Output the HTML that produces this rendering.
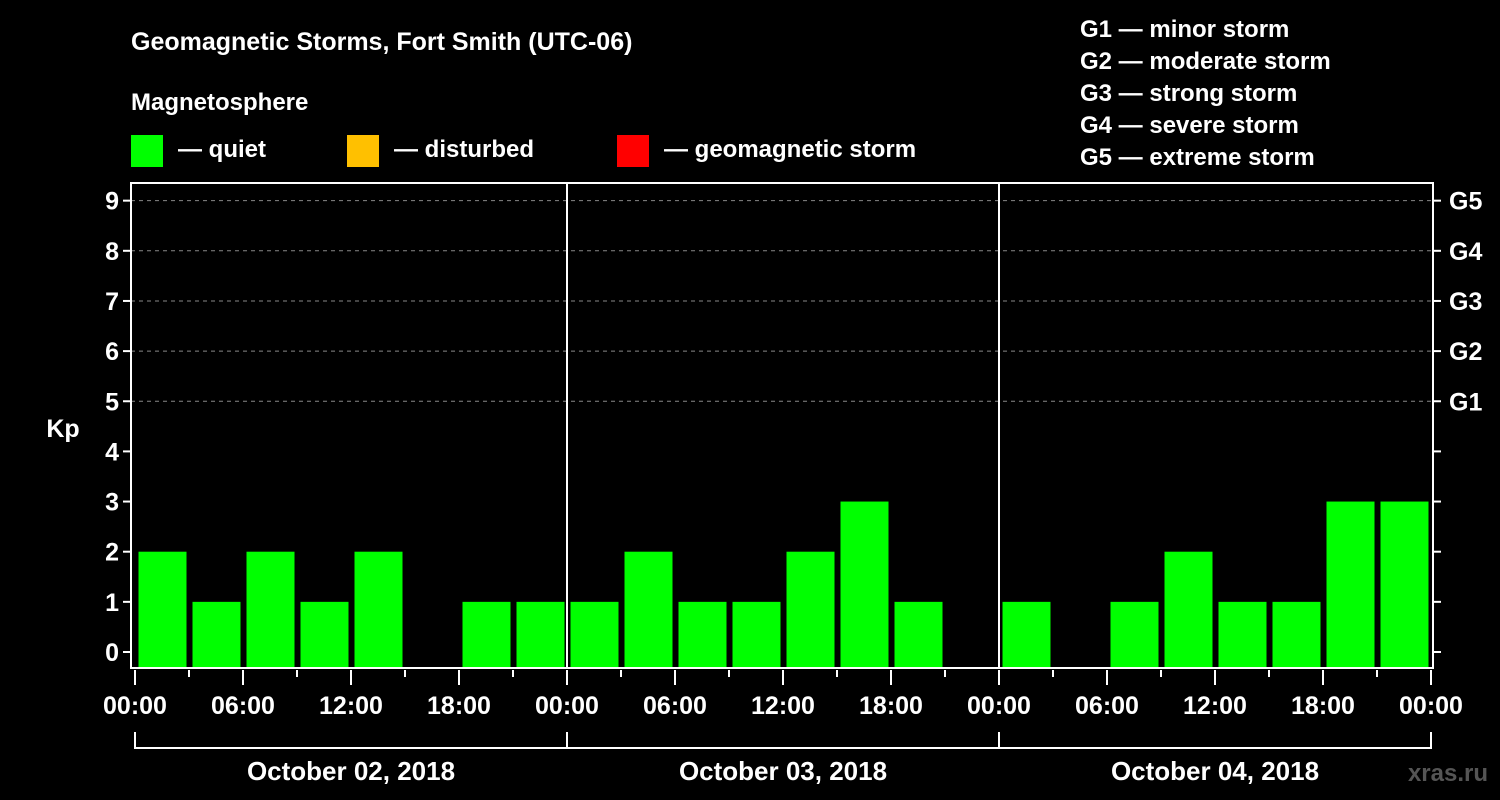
<!DOCTYPE html>
<html><head><meta charset="utf-8"><style>
html,body{margin:0;padding:0;background:#000;}
svg{display:block;font-family:"Liberation Sans",Arial,sans-serif;font-weight:bold;}
</style></head><body>
<svg id="chart" width="1500" height="800" viewBox="0 0 1500 800">
<rect width="1500" height="800" fill="#000"/>
<text x="131" y="50" fill="#fff" font-size="25">Geomagnetic Storms, Fort Smith (UTC-06)</text>
<text x="131" y="110" fill="#fff" font-size="24">Magnetosphere</text>
<g><rect x="131" y="135" width="32" height="32" fill="#00ff00"/><text x="178" y="157" fill="#fff" font-size="24">— quiet</text></g>
<g><rect x="347" y="135" width="32" height="32" fill="#ffc000"/><text x="394" y="157" fill="#fff" font-size="24">— disturbed</text></g>
<g><rect x="617" y="135" width="32" height="32" fill="#ff0000"/><text x="664" y="157" fill="#fff" font-size="24">— geomagnetic storm</text></g>
<g fill="#fff" font-size="24">
<text x="1080" y="37">G1 — minor storm</text>
<text x="1080" y="69">G2 — moderate storm</text>
<text x="1080" y="101">G3 — strong storm</text>
<text x="1080" y="133">G4 — severe storm</text>
<text x="1080" y="165">G5 — extreme storm</text>
</g>
<text x="63" y="437" fill="#fff" font-size="25" text-anchor="middle">Kp</text>
<g id="grid"></g><g id="bars"></g><g id="axes"></g>
<text x="1488" y="781" fill="#555" font-size="24" text-anchor="end">xras.ru</text>
</svg>
<script>
const days = ["October 02, 2018","October 03, 2018","October 04, 2018"];
const kpDay1 = [2,1,2,1,2,0,1,1];
const kpDay2 = [1,2,1,1,2,3,1,0];
const kpDay3 = [1,0,1,2,1,1,3,3];
const yTicks = [0,1,2,3,4,5,6,7,8,9];
const gLabels = ["G1","G2","G3","G4","G5"];
const timeLabels = ["00:00","06:00","12:00","18:00"];

const NS="http://www.w3.org/2000/svg";
const X0=135, DAYW=432, Y0=652, UNIT=50.15, TOP=183, BOT=668, RIGHT=1433, LEFT=131;
const xs = h => X0 + h*DAYW/24;
const ys = k => Y0 - k*UNIT;
function mk(tag, attrs, parent){const e=document.createElementNS(NS,tag);for(const k in attrs)e.setAttribute(k,attrs[k]);document.getElementById(parent).appendChild(e);return e;}

yTicks.forEach(k=>{ if(k>=5){
  const l=mk('line',{x1:LEFT,x2:RIGHT,y1:ys(k),y2:ys(k),stroke:'#888','stroke-width':1,'stroke-dasharray':'4,4'},'grid');
  
  
}});

const all=[kpDay1,kpDay2,kpDay3];
all.forEach((arr,d)=>arr.forEach((v,i)=>{
  if(v<=0) return;
  const x=xs(d*24+i*3)+3.5, w=DAYW/8-6;
  const r=mk('rect',{x:x,y:ys(v),width:w,height:BOT-ys(v),fill:v>=5?'#ff0000':(v>=4?'#ffc000':'#00ff00')},'bars');
  
  
}));

const frame=mk('path',{d:`M${LEFT} ${TOP} V${BOT} H${RIGHT} V${TOP} Z`,fill:'none',stroke:'#fff','stroke-width':2},'axes');


[1,2].forEach(d=>{
  const l=mk('line',{x1:xs(d*24),x2:xs(d*24),y1:TOP,y2:BOT,stroke:'#fff','stroke-width':2},'axes');
  
  
});
yTicks.forEach(k=>{
  const t=mk('line',{x1:LEFT-8,x2:LEFT,y1:ys(k),y2:ys(k),stroke:'#fff','stroke-width':2},'axes');
  
  
  const t2=mk('line',{x1:RIGHT,x2:RIGHT+8,y1:ys(k),y2:ys(k),stroke:'#fff','stroke-width':2},'axes');
  
  
  const lb=mk('text',{x:LEFT-12,y:ys(k)+9,fill:'#fff','font-size':25,'text-anchor':'end'},'axes');
  lb.textContent=k;
  
  
});
gLabels.forEach((g,i)=>{
  const lb=mk('text',{x:RIGHT+16,y:ys(5+i)+9,fill:'#fff','font-size':25},'axes');
  lb.textContent=g;
  
  
});
for(let h=0;h<=72;h+=3){
  const long=h%6===0;
  const t=mk('line',{x1:xs(h),x2:xs(h),y1:BOT+2,y2:BOT+(long?17:9),stroke:'#fff','stroke-width':2},'axes');
  
  
}
for(let d=0;d<=3;d++){
  timeLabels.forEach((s,i)=>{
    if(d===3&&i>0) return;
    const lb=mk('text',{x:xs(d*24+i*6),y:714,fill:'#fff','font-size':25,'text-anchor':'middle'},'axes');
    lb.textContent=s;
    
    
  });
}
const br=mk('path',{d:`M${xs(0)} 732 V748 H${xs(72)} V732 M${xs(24)} 732 V748 M${xs(48)} 732 V748`,fill:'none',stroke:'#fff','stroke-width':2},'axes');


days.forEach((s,d)=>{
  const lb=mk('text',{x:xs(d*24+12),y:780,fill:'#fff','font-size':26,'text-anchor':'middle'},'axes');
  lb.textContent=s;
  
  
});
</script>
</body></html>
